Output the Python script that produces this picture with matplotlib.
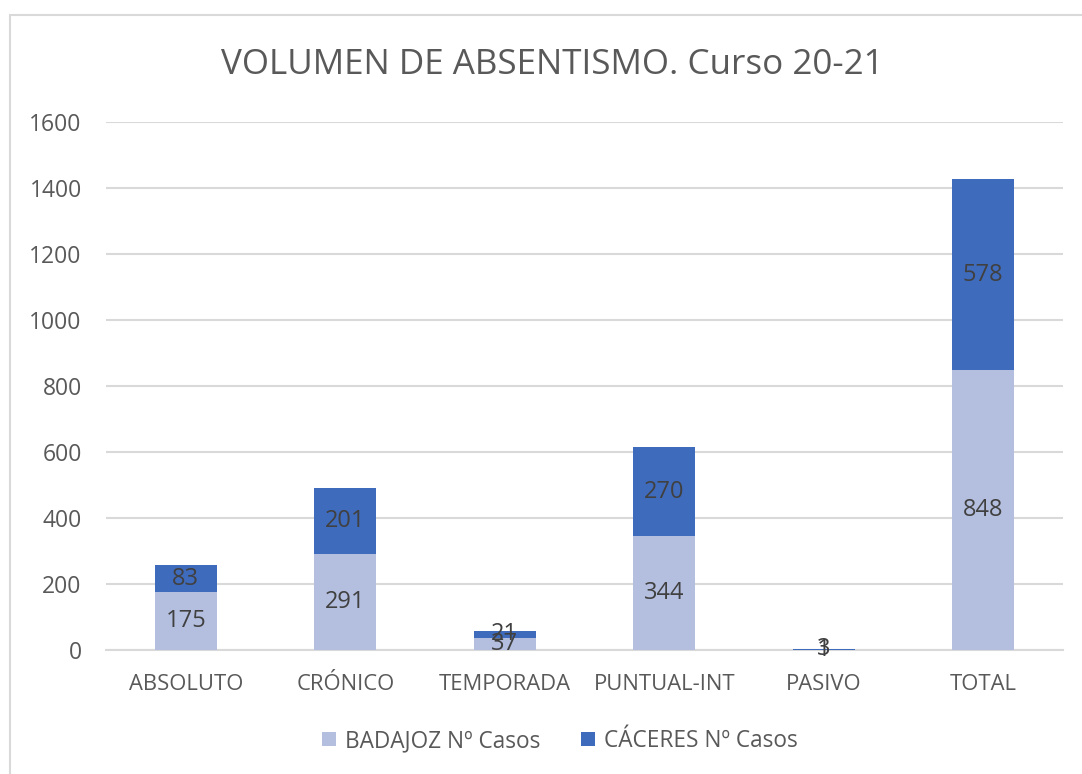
import matplotlib
matplotlib.use("Agg")
import matplotlib.pyplot as plt
import numpy as np

categories = ["ABSOLUTO", "CRÓNICO", "TEMPORADA", "PUNTUAL-INT", "PASIVO", "TOTAL"]
badajoz = [175, 291, 37, 344, 1, 848]
caceres = [83, 201, 21, 270, 3, 578]
yticks = [0, 200, 400, 600, 800, 1000, 1200, 1400, 1600]

c_bad = "#B4BFDF"
c_cac = "#3F6BBC"
txt = "#404040"

plt.rcParams['font.family'] = ['Open Sans', 'DejaVu Sans']

fig = plt.figure(figsize=(10.82, 7.74), dpi=100)
fig.patches.append(matplotlib.patches.Rectangle((10 / 1082, -0.05), 1.2, 1 - 15 / 774 + 0.05,
                                                transform=fig.transFigure,
                                                fill=False, edgecolor="#D9D9D9", linewidth=1.5))
ax = fig.add_axes([106 / 1082, 1 - 650 / 774, (1063 - 106) / 1082, (650 - 122) / 774])
x = np.arange(len(categories))
w = 0.39
ax.bar(x, badajoz, w, color=c_bad, label="BADAJOZ Nº Casos", zorder=3)
ax.bar(x, caceres, w, bottom=badajoz, color=c_cac, label="CÁCERES Nº Casos", zorder=3)

for i in range(len(categories)):
    ax.text(x[i], badajoz[i] / 2, str(badajoz[i]), ha="center", va="center", fontsize=17, color=txt, zorder=4)
    ax.text(x[i], badajoz[i] + caceres[i] / 2, str(caceres[i]), ha="center", va="center", fontsize=17, color=txt, zorder=4)

ax.set_xlim(-0.5, 5.5)
ax.set_ylim(0, 1600)
ax.set_yticks(yticks)
ax.set_yticklabels([str(t) for t in yticks], fontsize=16.5, color="#595959")
ax.set_xticks(x)
ax.set_xticklabels(categories, fontsize=15.8, color="#595959")
ax.tick_params(length=0)
ax.tick_params(axis="x", pad=17)
ax.tick_params(axis="y", pad=17.5)
ax.grid(axis="y", color="#D9D9D9", linewidth=1.5, zorder=0)
for s in ["top", "right", "left"]:
    ax.spines[s].set_visible(False)
ax.spines["bottom"].set_color("#D9D9D9")
ax.spines["bottom"].set_linewidth(1.5)

fig.text(552 / 1082, 1 - 65 / 774, "VOLUMEN DE ABSENTISMO. Curso 20-21", ha="center", va="center",
         fontsize=25.2, color="#595959")
fig.legend(loc="center", bbox_to_anchor=(560 / 1082, 1 - 741 / 774), ncol=2, frameon=False, fontsize=16.3,
           handlelength=0.6, handleheight=0.6, handletextpad=0.4, columnspacing=1.8, labelcolor="#595959")

fig.savefig("out.png", dpi=100)
